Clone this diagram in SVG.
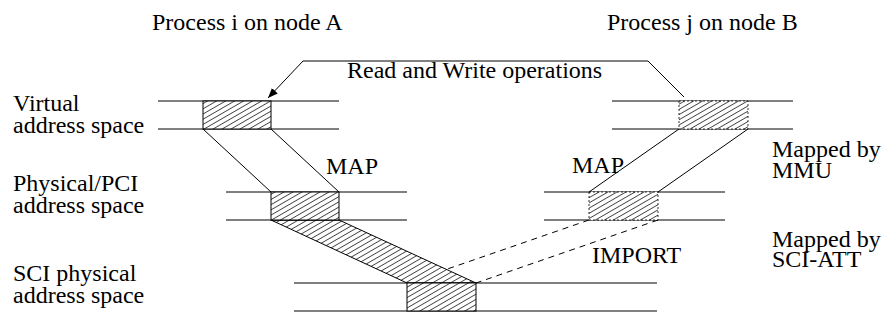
<svg xmlns="http://www.w3.org/2000/svg" width="882" height="320" viewBox="0 0 882 320">
<style>
.t{font-family:'Liberation Serif','DejaVu Serif',serif;font-size:24px;fill:#000}
.ln{stroke:#000;stroke-width:1;fill:none}
.box{stroke:#000;stroke-width:1;fill:url(#hatch)}
.dbox{stroke:#000;stroke-width:0.8;stroke-dasharray:2 2;fill:url(#hatch)}
.dash{stroke:#000;stroke-width:1;stroke-dasharray:6 5;fill:none}
</style>
<defs>
<pattern id="hatch" patternUnits="userSpaceOnUse" width="10" height="4.5" patternTransform="rotate(-30)">
<rect width="10" height="4.5" fill="#fff"/>
<line x1="0" y1="2.25" x2="10" y2="2.25" stroke="#000" stroke-width="0.7"/>
</pattern>
<marker id="arr" viewBox="0 0 10 10" refX="10" refY="5" markerWidth="10" markerHeight="10" markerUnits="userSpaceOnUse" orient="auto">
<path d="M0,1 L10,5 L0,9 Z" fill="#000"/>
</marker>
</defs>
<rect width="882" height="320" fill="#fff"/>

<g id="titles" class="t">
<text x="152" y="30">Process i on node A</text>
<text x="607" y="30">Process j on node B</text>
</g>

<g id="labels" class="t">
<text x="13" y="111">Virtual</text>
<text x="13" y="133">address space</text>
<text x="13" y="191">Physical/PCI</text>
<text x="13" y="213">address space</text>
<text x="13" y="281">SCI physical</text>
<text x="13" y="303">address space</text>
<text x="772" y="157">Mapped by</text>
<text x="772" y="178">MMU</text>
<text x="772" y="247">Mapped by</text>
<text x="772" y="267">SCI-ATT</text>
</g>

<g id="connectors">
<polyline class="ln" points="684,97 648,61 303,61 268,98" marker-end="url(#arr)"/>
<line class="ln" x1="203" y1="129" x2="271" y2="192"/>
<line class="ln" x1="271" y1="129" x2="339" y2="192"/>
<line class="ln" x1="589" y1="192" x2="679" y2="129"/>
<line class="ln" x1="658" y1="192" x2="748" y2="129"/>
<line class="dash" x1="589" y1="220" x2="446" y2="269.5"/>
<line class="dash" x1="658" y1="220" x2="476" y2="283"/>
<polygon class="box" points="271,220 339,220 476,283 407,283"/>
</g>

<g id="virtualA">
<line class="ln" x1="158" y1="101" x2="339" y2="101"/>
<line class="ln" x1="158" y1="129" x2="339" y2="129"/>
<rect class="box" x="203" y="101" width="68" height="28"/>
</g>

<g id="virtualB">
<line class="ln" x1="612" y1="101" x2="793" y2="101"/>
<line class="ln" x1="612" y1="129" x2="793" y2="129"/>
<rect class="dbox" x="679" y="101" width="69" height="28"/>
</g>

<g id="physicalA">
<line class="ln" x1="226" y1="192" x2="407" y2="192"/>
<line class="ln" x1="226" y1="220" x2="407" y2="220"/>
<rect class="box" x="271" y="192" width="68" height="28"/>
</g>

<g id="physicalB">
<line class="ln" x1="544" y1="192" x2="725" y2="192"/>
<line class="ln" x1="544" y1="220" x2="725" y2="220"/>
<rect class="dbox" x="589" y="192" width="69" height="28"/>
</g>

<g id="sci">
<line class="ln" x1="294" y1="283" x2="657" y2="283"/>
<line class="ln" x1="294" y1="311" x2="657" y2="311"/>
<rect class="box" x="407" y="283" width="69" height="28"/>
</g>

<g id="edge-labels" class="t">
<text x="347" y="78">Read and Write operations</text>
<text x="326" y="174">MAP</text>
<text x="572" y="173">MAP</text>
<text x="592" y="263">IMPORT</text>
</g>
</svg>
